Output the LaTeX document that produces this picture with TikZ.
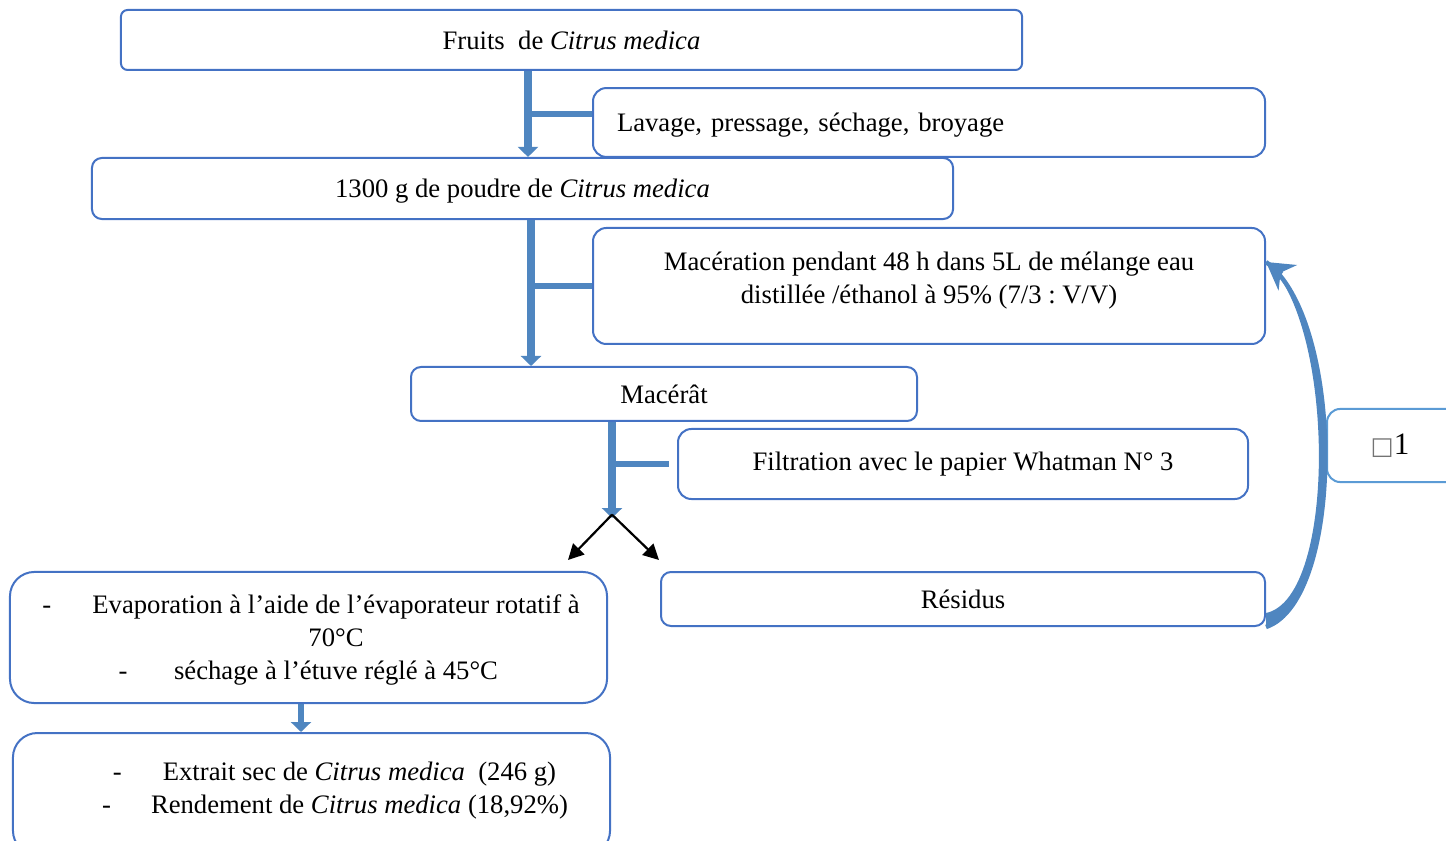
\documentclass[tikz,border=0pt]{standalone}
\usepackage{fontspec}
\setmainfont{Liberation Serif}
\newfontfamily\symfont{DejaVu Sans}
\usetikzlibrary{arrows.meta}
\definecolor{boxblue}{HTML}{4472C4}
\definecolor{lightblue}{HTML}{5B9BD5}
\definecolor{flowblue}{HTML}{4F86C0}
\frenchspacing
\tikzset{
  box/.style={draw=boxblue, line width=0.9pt, rounded corners=4.5pt, inner sep=0pt, font=\fontsize{12pt}{14.85pt}\selectfont},
  txt/.style={align=center, inner sep=0pt, font=\fontsize{12pt}{14.85pt}\selectfont},
  flow/.style={draw=flowblue, line width=4pt, -{Triangle[length=4.5pt,width=9pt]}},
  branch/.style={draw=flowblue, line width=2.7pt},
  split/.style={draw=black, line width=1pt, -{Triangle[length=7pt,width=7pt]}},
  recycle/.style={draw=flowblue, line width=2pt},
  recyclehead/.style={draw=flowblue, line width=2pt, -{Stealth[length=12pt,width=14pt]}}
}
\begin{document}
\begin{tikzpicture}[x=0.45pt,y=-0.45pt]
    \useasboundingbox (0,0) rectangle (1446,841);
    \clip (0,0) rectangle (1446,841);

    % boîtes
    \node[box, rounded corners=3pt, minimum width=405.5pt, minimum height=27pt] (fruits) at (571.5,40) {Fruits\ \ de \textit{Citrus medica}};
    \node[box, rounded corners=6pt, minimum width=302.4pt, minimum height=31pt, text width=280.8pt, align=left, text depth=0pt] (lavage) at (929,122.5) {Lavage, pressage, séchage, broyage};
    \node[box, minimum width=387.5pt, minimum height=27.5pt, text depth=0pt] (poudre) at (522.5,188.5) {1300 g de poudre de \textit{Citrus medica}};
    \node[box, rounded corners=6pt, minimum width=302.4pt, minimum height=52.2pt] (mace) at (929,286) {};
    \node[txt] (macetext) at (929,280.5) {Macération pendant 48 h dans 5L de mélange eau\\distillée /éthanol à 95\% (7/3 : V/V)};
    \node[box, minimum width=227.7pt, minimum height=24.3pt] (macerat) at (664,394) {Macérât};
    \node[box, rounded corners=6pt, minimum width=256.5pt, minimum height=31.5pt] (filt) at (963,464) {Filtration avec le papier Whatman N° 3};
    \node[box, minimum width=271.8pt, minimum height=24.3pt] (resid) at (963,599) {Résidus};
    \node[box, rounded corners=11pt, minimum width=268.7pt, minimum height=59pt] (evap) at (308.5,637.5) {};
    \node[txt] (evaptext) at (336,640) {\llap{-\hspace{18.5pt}}Evaporation à l’aide de l’évaporateur rotatif à\\70°C\\\llap{-\hspace{21pt}}séchage à l’étuve réglé à 45°C};
    \node[box, rounded corners=11pt, minimum width=268.7pt, minimum height=54.9pt] (extrait) at (311.5,794) {};
    \node[txt] (extraittext) at (359.5,790.5) {\llap{-\hspace{18.5pt}}Extrait sec de \textit{Citrus medica}\ \ (246 g)\\\llap{-\hspace{18pt}}Rendement de \textit{Citrus medica} (18,92\%)};
    \node[box, draw=lightblue, rounded corners=6pt, minimum width=65.7pt, minimum height=32.9pt, font=\fontsize{14pt}{16pt}\selectfont] (cycle) at (1400,445.5) {{\color{black!55}\symfont\fontsize{11pt}{13pt}\selectfont\char"25A1}1\kern9pt};

    % flèches
    \draw[flow] (528,0 |- fruits.south) -- (528,0 |- poudre.north);
    \draw[branch] (528,114) -- (lavage.west |- 0,114);
    \draw[flow] (531,0 |- poudre.south) -- (531,0 |- macerat.north);
    \draw[branch] (531,0 |- mace.west) -- (mace.west);
    \coordinate (fork) at (612,518);
    \coordinate (forkl) at (568,560);
    \coordinate (forkr) at (659,560);
    \draw[flow] (612,0 |- macerat.south) -- (fork);
    \draw[branch] (612,464) -- ([xshift=-3.6pt]filt.west);
    \draw[split] ([yshift=1.5pt]fork) -- (forkl);
    \draw[split] ([yshift=1.5pt]fork) -- (forkr);
    \draw[flow, line width=3pt] (301,0 |- evap.south) -- (301,0 |- extrait.north);

    % recyclage
    \coordinate (back) at ([yshift=10.8pt]mace.east);
    \fill[flowblue] (resid.south east) .. controls (1345,600) and (1345,320) .. (back)
        .. controls (1335,320) and (1338,598) .. ([yshift=6.3pt]resid.south east) -- cycle;
    \draw[recycle] (resid.south east) .. controls (1345,600) and (1345,320) .. (back);
    \draw[recyclehead] ([shift={(16,11.6)}]back) -- (back);
\end{tikzpicture}
\end{document}
